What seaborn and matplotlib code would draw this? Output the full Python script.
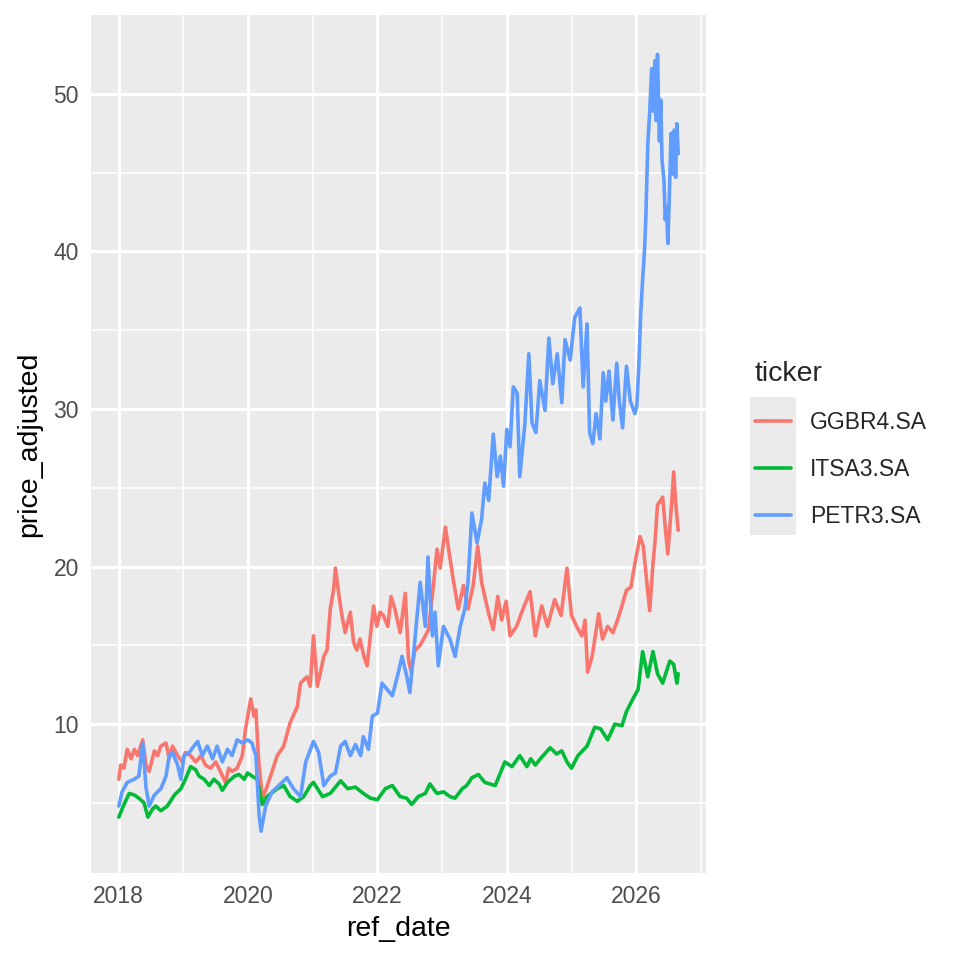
import numpy as np
import pandas as pd
import matplotlib
matplotlib.use("Agg")
import matplotlib.pyplot as plt
import matplotlib.dates as mdates
from matplotlib.patches import Rectangle
from matplotlib.ticker import FixedLocator
import seaborn as sns

# readings, dates as decimal years
ggbr_t = [2018.00, 2018.03, 2018.08, 2018.13, 2018.19, 2018.24, 2018.29, 2018.37, 2018.42, 2018.47,
          2018.55, 2018.60, 2018.65, 2018.73, 2018.78, 2018.83, 2018.91, 2018.98, 2019.03, 2019.11,
          2019.19, 2019.27, 2019.34, 2019.42, 2019.50, 2019.57, 2019.65, 2019.70, 2019.75, 2019.83,
          2019.91, 2019.96, 2020.04, 2020.09, 2020.12, 2020.16, 2020.22, 2020.29, 2020.37, 2020.45,
          2020.55, 2020.65, 2020.76, 2020.81, 2020.91, 2020.96, 2021.01, 2021.07, 2021.12, 2021.17,
          2021.22, 2021.27, 2021.32, 2021.35, 2021.40, 2021.45, 2021.50, 2021.58, 2021.63, 2021.68,
          2021.73, 2021.79, 2021.84, 2021.89, 2021.94, 2021.99, 2022.04, 2022.09, 2022.16, 2022.21,
          2022.27, 2022.35, 2022.43, 2022.48, 2022.52, 2022.58, 2022.66, 2022.74, 2022.79, 2022.87,
          2022.92, 2022.97, 2023.05, 2023.10, 2023.17, 2023.25, 2023.33, 2023.40, 2023.48, 2023.55,
          2023.61, 2023.66, 2023.72, 2023.79, 2023.86, 2023.92, 2023.99, 2024.05, 2024.15, 2024.25,
          2024.36, 2024.44, 2024.54, 2024.63, 2024.74, 2024.84, 2024.93, 2025.00, 2025.08, 2025.16,
          2025.21, 2025.25, 2025.32, 2025.42, 2025.48, 2025.56, 2025.64, 2025.72, 2025.78, 2025.85,
          2025.92, 2025.98, 2026.06, 2026.11, 2026.16, 2026.21, 2026.26, 2026.29, 2026.33, 2026.41,
          2026.45, 2026.49, 2026.55, 2026.58, 2026.61, 2026.65]
ggbr_v = [6.5, 7.4, 7.2, 8.4, 7.8, 8.4, 8.0, 9.0, 7.4, 7.0,
          8.3, 8.0, 8.6, 8.8, 7.8, 8.6, 8.0, 7.6, 8.2, 8.0,
          7.6, 8.0, 7.4, 7.2, 7.6, 7.0, 6.3, 7.2, 7.0, 7.2,
          8.0, 9.7, 11.6, 10.5, 10.9, 7.8, 5.3, 6.0, 7.0, 8.0,
          8.6, 10.1, 11.1, 12.6, 13.0, 12.4, 15.6, 12.4, 13.3, 14.3,
          14.7, 17.3, 18.5, 19.9, 18.3, 16.9, 15.8, 17.1, 15.2, 14.7,
          15.4, 14.3, 13.7, 15.6, 17.5, 16.2, 17.1, 16.9, 16.2, 18.1,
          17.3, 15.8, 18.3, 14.1, 13.3, 14.7, 15.0, 15.6, 16.0, 19.0,
          21.1, 19.9, 22.5, 21.1, 19.2, 17.3, 18.8, 17.3, 18.8, 21.3,
          19.0, 18.1, 17.0, 16.0, 18.1, 16.6, 17.8, 15.6, 16.2, 17.3,
          18.4, 15.6, 17.5, 16.2, 17.9, 16.9, 19.9, 16.9, 16.2, 15.6,
          16.6, 13.3, 14.3, 17.0, 15.4, 16.2, 15.8, 16.7, 17.5, 18.5,
          18.7, 20.2, 21.9, 21.3, 19.2, 17.2, 20.2, 21.5, 23.9, 24.4,
          22.5, 20.8, 24.1, 26.0, 24.1, 22.3]

itsa_t = [2018.00, 2018.08, 2018.16, 2018.24, 2018.31, 2018.39, 2018.45, 2018.52, 2018.57, 2018.65,
          2018.75, 2018.86, 2018.96, 2019.03, 2019.11, 2019.19, 2019.24, 2019.32, 2019.40, 2019.47,
          2019.55, 2019.60, 2019.68, 2019.79, 2019.86, 2019.94, 2019.99, 2020.06, 2020.14, 2020.22,
          2020.29, 2020.45, 2020.55, 2020.65, 2020.76, 2020.86, 2020.96, 2021.01, 2021.15, 2021.27,
          2021.43, 2021.54, 2021.66, 2021.78, 2021.89, 2022.00, 2022.12, 2022.23, 2022.35, 2022.45,
          2022.53, 2022.63, 2022.74, 2022.81, 2022.92, 2023.02, 2023.12, 2023.20, 2023.31, 2023.38,
          2023.46, 2023.56, 2023.66, 2023.82, 2023.90, 2023.97, 2024.08, 2024.20, 2024.31, 2024.37,
          2024.44, 2024.54, 2024.67, 2024.77, 2024.85, 2024.93, 2025.00, 2025.10, 2025.24, 2025.36,
          2025.45, 2025.56, 2025.67, 2025.78, 2025.85, 2025.95, 2026.03, 2026.10, 2026.18, 2026.26,
          2026.33, 2026.41, 2026.52, 2026.58, 2026.63, 2026.65]
itsa_v = [4.1, 4.9, 5.6, 5.5, 5.3, 5.0, 4.1, 4.6, 4.8, 4.5,
          4.8, 5.5, 5.9, 6.5, 7.3, 7.1, 6.7, 6.5, 6.1, 6.5,
          6.2, 5.8, 6.3, 6.7, 6.8, 6.5, 6.9, 6.7, 6.5, 4.9,
          5.4, 5.9, 6.1, 5.4, 5.1, 5.4, 6.1, 6.3, 5.4, 5.6,
          6.4, 5.9, 6.0, 5.6, 5.3, 5.2, 5.9, 6.1, 5.4, 5.3,
          4.9, 5.4, 5.6, 6.2, 5.6, 5.7, 5.4, 5.3, 5.9, 6.1,
          6.6, 6.8, 6.3, 6.1, 6.9, 7.6, 7.3, 8.0, 7.3, 7.8,
          7.4, 7.9, 8.5, 8.1, 8.3, 7.6, 7.2, 8.0, 8.6, 9.8,
          9.7, 9.0, 10.0, 9.9, 10.8, 11.6, 12.2, 14.6, 13.0, 14.6,
          13.2, 12.6, 14.0, 13.8, 12.6, 13.2]

petr_t = [2018.00, 2018.05, 2018.13, 2018.24, 2018.31, 2018.37, 2018.42, 2018.47, 2018.55, 2018.65,
          2018.73, 2018.78, 2018.83, 2018.91, 2018.96, 2019.01, 2019.09, 2019.16, 2019.22, 2019.29,
          2019.37, 2019.45, 2019.52, 2019.60, 2019.68, 2019.75, 2019.83, 2019.91, 2019.99, 2020.06,
          2020.12, 2020.17, 2020.20, 2020.27, 2020.37, 2020.50, 2020.60, 2020.70, 2020.81, 2020.89,
          2021.01, 2021.09, 2021.17, 2021.27, 2021.35, 2021.43, 2021.50, 2021.58, 2021.66, 2021.74,
          2021.78, 2021.86, 2021.92, 2022.00, 2022.07, 2022.15, 2022.23, 2022.30, 2022.38, 2022.46,
          2022.50, 2022.58, 2022.66, 2022.74, 2022.78, 2022.85, 2022.89, 2022.94, 2023.02, 2023.12,
          2023.20, 2023.28, 2023.35, 2023.40, 2023.46, 2023.54, 2023.61, 2023.66, 2023.72, 2023.79,
          2023.85, 2023.90, 2023.95, 2024.00, 2024.05, 2024.10, 2024.16, 2024.20, 2024.28, 2024.34,
          2024.39, 2024.45, 2024.51, 2024.59, 2024.65, 2024.71, 2024.78, 2024.85, 2024.90, 2024.98,
          2025.05, 2025.13, 2025.18, 2025.24, 2025.28, 2025.33, 2025.38, 2025.44, 2025.49, 2025.53,
          2025.58, 2025.64, 2025.70, 2025.74, 2025.79, 2025.85, 2025.91, 2025.98, 2026.01, 2026.04,
          2026.07, 2026.10, 2026.13, 2026.15, 2026.18, 2026.21, 2026.24, 2026.26, 2026.29, 2026.31,
          2026.33, 2026.36, 2026.38, 2026.40, 2026.43, 2026.45, 2026.47, 2026.49, 2026.52, 2026.54,
          2026.57, 2026.59, 2026.61, 2026.63, 2026.65]
petr_v = [4.8, 5.7, 6.3, 6.5, 6.7, 8.8, 6.0, 4.8, 5.5, 5.9,
          6.7, 8.0, 8.2, 7.4, 6.5, 8.0, 8.2, 8.6, 8.9, 8.0,
          8.6, 7.8, 8.6, 7.6, 8.4, 8.0, 9.0, 8.8, 9.0, 8.8,
          8.0, 4.2, 3.2, 4.8, 5.7, 6.2, 6.6, 5.9, 5.4, 7.6,
          8.9, 8.2, 6.1, 6.7, 6.9, 8.6, 8.9, 8.0, 8.7, 8.0,
          9.2, 8.4, 10.5, 10.7, 12.6, 12.2, 11.8, 12.9, 14.3, 12.9,
          12.0, 15.4, 19.0, 16.2, 20.6, 15.6, 17.1, 13.7, 16.2, 15.4,
          14.3, 16.2, 17.3, 19.0, 23.4, 21.5, 23.0, 25.3, 24.2, 28.4,
          25.7, 27.0, 25.1, 28.7, 27.6, 31.4, 31.0, 25.7, 29.1, 33.5,
          29.1, 28.5, 31.8, 29.9, 34.5, 31.6, 33.5, 30.4, 34.4, 33.1,
          35.8, 36.4, 31.4, 35.4, 28.5, 27.8, 29.7, 28.1, 32.3, 30.5,
          32.4, 29.3, 32.9, 30.5, 28.8, 32.7, 30.5, 29.7, 30.2, 32.6,
          36.0, 38.2, 40.1, 42.2, 46.8, 48.9, 51.6, 48.9, 52.1, 48.3,
          52.5, 47.0, 49.6, 45.8, 44.5, 42.0, 42.8, 40.5, 44.5, 47.5,
          44.9, 47.7, 44.7, 48.1, 46.2]

tickers = ["GGBR4.SA", "ITSA3.SA", "PETR3.SA"]
colors = ["#F8766D", "#00BA38", "#619CFF"]


def to_date(years):
    years = np.asarray(years, dtype=float)
    return pd.Timestamp("2018-01-01") + pd.to_timedelta((years - 2018.0) * 365.25, unit="D")


frames = []
for name, t, v in zip(tickers, [ggbr_t, itsa_t, petr_t], [ggbr_v, itsa_v, petr_v]):
    frames.append(pd.DataFrame({"ref_date": to_date(t), "price_adjusted": v, "ticker": name}))
df = pd.concat(frames, ignore_index=True)

sns.set_style("white")
plt.rcParams["font.family"] = ["Liberation Sans", "DejaVu Sans"]

fig = plt.figure(figsize=(9.6, 9.6), dpi=100)
ax = fig.add_axes([91 / 960, 1 - 873 / 960, (706 - 91) / 960, (873 - 15) / 960])
ax.set_facecolor("#EBEBEB")

sns.lineplot(data=df, x="ref_date", y="price_adjusted", hue="ticker",
             palette=dict(zip(tickers, colors)), estimator=None, sort=True,
             linewidth=2.6, ax=ax, legend=False)

ax.set_xlim(to_date([2017.57])[0], to_date([2027.08])[0])
ax.set_ylim(0.55, 55.0)

ax.xaxis.set_major_locator(mdates.YearLocator(2))
ax.xaxis.set_minor_locator(mdates.YearLocator(1))
ax.xaxis.set_major_formatter(mdates.DateFormatter("%Y"))
ax.yaxis.set_major_locator(FixedLocator([10, 20, 30, 40, 50]))
ax.yaxis.set_minor_locator(FixedLocator([5, 15, 25, 35, 45]))

ax.grid(which="major", color="white", linewidth=2.3)
ax.grid(which="minor", color="white", linewidth=1.15)
ax.set_axisbelow(True)
for s in ax.spines.values():
    s.set_visible(False)

ax.tick_params(which="major", length=5.2, width=2.0, color="#333333",
               labelsize=16.5, labelcolor="#4D4D4D", pad=3.5)
ax.tick_params(which="minor", length=0)
ax.set_xlabel("ref_date", fontsize=20.5, color="black", labelpad=6)
ax.set_ylabel("price_adjusted", fontsize=20.5, color="black", labelpad=8)

# legend in the ggplot manner: grey key column, title on top
fig.patches.append(Rectangle((750 / 960, 1 - 535 / 960), 46 / 960, 138 / 960,
                             transform=fig.transFigure, facecolor="#EBEBEB",
                             edgecolor="none", zorder=0))
handles = [plt.Line2D([], [], color=c, linewidth=2.6) for c in colors]
leg = fig.legend(handles, tickers, title="ticker", loc="upper left",
                 bbox_to_anchor=(739 / 960, 1 - 345 / 960), frameon=False,
                 fontsize=16.5, title_fontsize=20.5, handlelength=1.55,
                 handletextpad=0.85, labelspacing=1.05, borderpad=0.2,
                 alignment="left")

fig.savefig("out.png", dpi=100, facecolor="white")
